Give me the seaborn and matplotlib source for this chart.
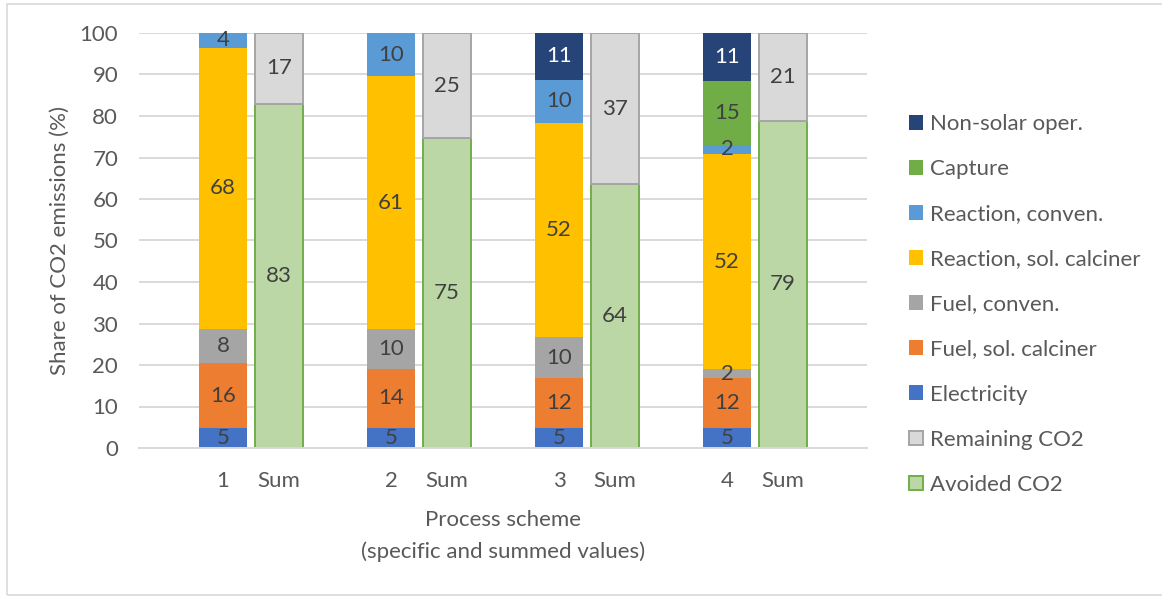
import math

import matplotlib
matplotlib.use("Agg")
import matplotlib.pyplot as plt
from matplotlib.patches import Patch, Rectangle
import numpy as np
import pandas as pd
import seaborn as sns

# ---- data (% of CO2 emissions) ----
schemes = ["1", "2", "3", "4"]
electricity = [4.9, 4.9, 4.9, 4.9]
fuel_sol = [15.5, 14.1, 11.9, 11.9]
fuel_conv = [8.3, 9.7, 10.0, 2.2]
reaction_sol = [67.8, 60.9, 51.6, 51.8]
reaction_conv = [3.5, 10.4, 10.3, 2.3]
capture = [0.0, 0.0, 0.0, 15.45]
non_solar = [0.0, 0.0, 11.3, 11.45]
avoided = [82.9, 74.6, 63.5, 78.8]
remaining = [17.1, 25.4, 36.5, 21.2]

sum_label = "Sum"
y_ticks = [0, 10, 20, 30, 40, 50, 60, 70, 80, 90, 100]

layer_names = ["Electricity", "Fuel, sol. calciner", "Fuel, conven.",
               "Reaction, sol. calciner", "Reaction, conven.", "Capture",
               "Non-solar oper."]
layer_values = [electricity, fuel_sol, fuel_conv, reaction_sol,
                reaction_conv, capture, non_solar]
layer_colors = ["#4472C4", "#ED7D31", "#A5A5A5", "#FFC000", "#5B9BD5",
                "#70AD47", "#264478"]

REM_FACE, REM_EDGE = "#D9D9D9", "#A5A5A5"
AVO_FACE, AVO_EDGE = "#BAD7A5", "#70AD47"

# ---- style ----
sns.set_theme(style="white")
plt.rcParams["font.family"] = ["Lato", "DejaVu Sans"]
FS = 16
TEXT = "#595959"
VALUE = "#404040"
GRID = "#D9D9D9"
BAR_W = 0.84


def fmt(v):
    return str(math.floor(v + 0.5))


fig = plt.figure(figsize=(11.62, 5.99), dpi=100)
ax = fig.add_axes([139 / 1162, 1 - 448 / 599, 728 / 1162, 415 / 599])

# category slots: scheme, its sum, then an empty spacer
order = []
for s in schemes:
    order += [s, f"Sum {s}", f"gap {s}"]
order = order[:-1]

# ---- stacked scheme bars (drawn top layer first, lower layers over it) ----
stack = np.array(layer_values)
tops = np.cumsum(stack, axis=0)
for k in reversed(range(len(layer_values))):
    vals = np.array(layer_values[k])
    mask = vals > 0
    df = pd.DataFrame({"x": np.array(schemes)[mask], "top": tops[k][mask]})
    sns.barplot(data=df, x="x", y="top", order=order, color=layer_colors[k],
                saturation=1, width=BAR_W, linewidth=0, errorbar=None, ax=ax)

# ---- summed bars: avoided at the bottom, remaining stacked on it ----
sum_cats = [f"Sum {s}" for s in schemes]
df_avo = pd.DataFrame({"x": sum_cats, "val": avoided})
df_rem = pd.DataFrame({"x": sum_cats, "val": remaining})
sns.barplot(data=df_avo, x="x", y="val", order=order, color=AVO_FACE,
            saturation=1, width=BAR_W, edgecolor=AVO_EDGE, linewidth=1.4,
            errorbar=None, ax=ax)
sns.barplot(data=df_rem, x="x", y="val", order=order, color=REM_FACE,
            saturation=1, width=BAR_W, edgecolor=REM_EDGE, linewidth=1.4,
            errorbar=None, bottom=np.array(avoided), ax=ax)

# ---- value labels ----
for i, s in enumerate(schemes):
    xpos = order.index(s)
    for k, vals in enumerate(layer_values):
        v = vals[i]
        if v <= 0:
            continue
        col = "white" if layer_names[k] == "Non-solar oper." else VALUE
        ax.text(xpos, tops[k][i] - v / 2, fmt(v), ha="center", va="center",
                fontsize=FS, color=col)
    xs = order.index(f"Sum {s}")
    ax.text(xs, avoided[i] / 2, fmt(avoided[i]), ha="center", va="center",
            fontsize=FS, color=VALUE)
    ax.text(xs, avoided[i] + remaining[i] / 2, fmt(remaining[i]),
            ha="center", va="center", fontsize=FS, color=VALUE)

# ---- axes ----
ax.set_xlim(-1.5, len(order) + 0.5)
ax.set_ylim(0, 100)
ax.set_yticks(y_ticks)
tick_pos, tick_lab = [], []
for s in schemes:
    tick_pos += [order.index(s), order.index(f"Sum {s}")]
    tick_lab += [s, sum_label]
ax.set_xticks(tick_pos)
ax.set_xticklabels(tick_lab)
ax.tick_params(axis="both", length=0, labelsize=FS, labelcolor=TEXT)
ax.tick_params(axis="y", pad=15)
ax.tick_params(axis="x", pad=16.5)

ax.grid(axis="y", color=GRID, linewidth=1.4)
ax.set_axisbelow(True)
sns.despine(ax=ax, left=True)
ax.spines["bottom"].set_color(GRID)
ax.spines["bottom"].set_linewidth(1.4)

ax.set_ylabel("Share of CO2 emissions (%)", fontsize=FS, color=TEXT)
ax.yaxis.set_label_coords(-0.095, 0.5)
ax.set_xlabel("Process scheme\n(specific and summed values)", fontsize=FS,
              color=TEXT, linespacing=1.68)
ax.xaxis.set_label_coords(0.5, -0.149)

# ---- legend ----
handles = [Patch(facecolor=c, edgecolor="none", label=n)
           for n, c in zip(layer_names, layer_colors)][::-1]
handles += [Patch(facecolor=REM_FACE, edgecolor=REM_EDGE, linewidth=1.4,
                  label="Remaining CO2"),
            Patch(facecolor=AVO_FACE, edgecolor=AVO_EDGE, linewidth=1.4,
                  label="Avoided CO2")]
leg = fig.legend(handles=handles, loc="upper left",
                 bbox_to_anchor=(909 / 1162, 1 - 114 / 599),
                 frameon=False, fontsize=FS, handlelength=0.65,
                 handleheight=0.65, handletextpad=0.3, labelspacing=1.13,
                 borderpad=0, borderaxespad=0)
for t in leg.get_texts():
    t.set_color(TEXT)

# chart-area frame
fig.patches.append(Rectangle((7 / 1162, 4 / 599), 1.2, 591 / 599,
                             transform=fig.transFigure, fill=False,
                             edgecolor=GRID, linewidth=1.2))

fig.savefig("out.png", dpi=100)
